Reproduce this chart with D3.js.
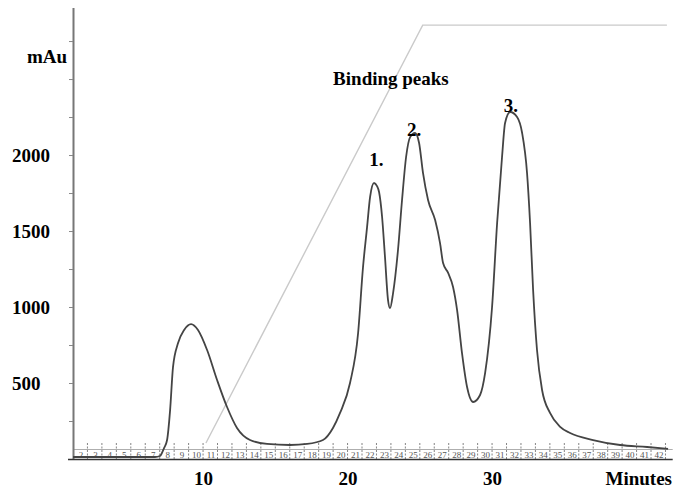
<!DOCTYPE html>
<html>
<head>
<meta charset="utf-8">
<script src="https://cdn.jsdelivr.net/npm/d3@7"></script>
<style>
    body { margin: 0; background: #fff; }
    svg text { font-family: "Liberation Serif", "DejaVu Serif", serif; }
    .lbl { font-weight: bold; font-size: 19px; fill: #000; }
    .strip text { font-size: 9px; fill: #555; }
</style>
</head>
<body>
<div id="chart"></div>
<script>
// elution profile: time (min) and absorbance (mAu)
const minutes = [1.0, 4.26, 6.68, 7.02, 7.30, 7.51, 7.72, 7.92, 8.27, 8.69, 9.17, 9.65, 10.28, 10.97,
    11.66, 12.35, 13.25, 14.43, 16.02, 17.20, 18.30, 18.99, 19.48, 20.17, 20.73, 21.07, 21.35,
    21.56, 21.83, 22.04, 22.18, 22.39, 22.59, 22.80, 22.94, 23.15, 23.49, 23.77, 24.05, 24.33,
    24.67, 24.95, 25.22, 25.57, 26.06, 26.40, 26.61, 26.96, 27.30, 27.58, 27.92, 28.27, 28.69,
    29.17, 29.52, 30.00, 30.35, 30.69, 30.90, 31.25, 31.73, 32.08, 32.42, 32.63, 32.84, 33.11,
    33.46, 34.01, 34.71, 35.40, 36.99, 38.86, 40.73, 42.18];
const absorbance = [13, 13, 13, 20, 72, 125, 322, 605, 763, 849, 888, 849, 717, 520,
    342, 204, 125, 99, 92, 99, 125, 204, 303, 500, 829, 1263, 1526,
    1724, 1816, 1796, 1757, 1592, 1329, 1046, 993, 1092, 1375, 1704, 1987, 2118,
    2145, 2079, 1882, 1704, 1572, 1421, 1289, 1224, 1132, 980, 697, 474, 375,
    421, 566, 1000, 1553, 1987, 2211, 2283, 2250, 2145, 1882, 1553, 1112, 717,
    454, 303, 211, 171, 125, 92, 79, 66];

// gradient trace
const gradMinutes = [10.2, 25.2, 42.1];
const gradLevel = [105, 2855, 2855];

// tick labels
const yTickLabels = [500, 1000, 1500, 2000];
const yMinorTicks = [250, 500, 750, 1000, 1250, 1500, 1750, 2000, 2250, 2500, 2750];
const xTickLabels = [10, 20, 30];
const stripLabels = [2, 3, 4, 5, 6, 7, 8, 9, 10, 11, 12, 13, 14, 15, 16, 17, 18, 19, 20, 21, 22,
    23, 24, 25, 26, 27, 28, 29, 30, 31, 32, 33, 34, 35, 36, 37, 38, 39, 40, 41, 42];

// peak annotations
const peakNames = ["1.", "2.", "3."];
const peakTimes = [22.0, 24.6, 31.3];
const peakLevels = [1930, 2125, 2285];

const width = 675, height = 491;

const svg = d3.select("#chart")
    .append("svg")
    .attr("width", width)
    .attr("height", height);

const x = d3.scaleLinear().domain([1, 42.5]).range([73, 672.7]);
const y = d3.scaleLinear().domain([0, 2970]).range([459, 7.6]);

// strip chart scale at the bottom
const strip = svg.append("g").attr("class", "strip");
strip.append("line")
    .attr("x1", x(1)).attr("x2", x(42.5))
    .attr("y1", 449.5).attr("y2", 449.5)
    .attr("stroke", "#999").attr("stroke-width", 0.8);
strip.selectAll(".stick")
    .data(stripLabels)
    .enter()
    .append("line")
    .attr("class", "stick")
    .attr("x1", d => x(d)).attr("x2", d => x(d))
    .attr("y1", 443).attr("y2", 459)
    .attr("stroke", "#777")
    .attr("stroke-width", 0.9)
    .attr("stroke-dasharray", "2,1.5");
strip.selectAll(".snum")
    .data(stripLabels)
    .enter()
    .append("text")
    .attr("class", "snum")
    .attr("x", d => x(d - 0.45))
    .attr("y", 458)
    .attr("text-anchor", "middle")
    .text(d => d);

// gradient
svg.append("path")
    .attr("d", d3.line().x(d => x(d[0])).y(d => y(d[1]))(gradMinutes.map((m, i) => [m, gradLevel[i]])))
    .attr("fill", "none")
    .attr("stroke", "#cacaca")
    .attr("stroke-width", 1.4);

// y axis
const yAxis = svg.append("g")
    .attr("transform", "translate(" + x(1) + ",0)")
    .call(d3.axisLeft(y).tickValues(yMinorTicks).tickSize(4).tickSizeOuter(0).tickFormat(""));
yAxis.select(".domain").attr("stroke", "#777").attr("stroke-width", 2);
yAxis.selectAll(".tick line").attr("stroke", "#888");

svg.selectAll(".ylab")
    .data(yTickLabels)
    .enter()
    .append("text")
    .attr("class", "lbl ylab")
    .attr("x", 12)
    .attr("y", d => y(d))
    .attr("dy", "0.35em")
    .text(d => d);

svg.append("text")
    .attr("class", "lbl")
    .attr("x", 67)
    .attr("y", 63)
    .attr("text-anchor", "end")
    .text("mAu");

// x axis
svg.append("line")
    .attr("x1", 68).attr("x2", x(42.5))
    .attr("y1", 459.5).attr("y2", 459.5)
    .attr("stroke", "#333")
    .attr("stroke-width", 1.5);

const xAxis = svg.append("g")
    .attr("transform", "translate(0,459)")
    .call(d3.axisBottom(x).tickValues(xTickLabels).tickSize(0).tickFormat(d3.format("d")));
xAxis.select(".domain").remove();
xAxis.attr("font-size", null).attr("font-family", null);
xAxis.selectAll("text")
    .attr("class", "lbl")
    .attr("y", 26)
    .attr("dy", 0);

svg.append("text")
    .attr("class", "lbl")
    .attr("x", 672)
    .attr("y", 485)
    .attr("text-anchor", "end")
    .text("Minutes");

// elution profile
const profile = minutes.map((m, i) => [m, absorbance[i]]);
svg.append("path")
    .datum(profile)
    .attr("d", d3.line().x(d => x(d[0])).y(d => y(d[1])).curve(d3.curveMonotoneX))
    .attr("fill", "none")
    .attr("stroke", "#444")
    .attr("stroke-width", 1.8);

// annotations
svg.append("text")
    .attr("class", "lbl")
    .attr("x", x(19.0))
    .attr("y", 85)
    .text("Binding peaks");

svg.selectAll(".peak")
    .data(peakNames)
    .enter()
    .append("text")
    .attr("class", "lbl peak")
    .attr("x", (d, i) => x(peakTimes[i]))
    .attr("y", (d, i) => y(peakLevels[i]))
    .attr("text-anchor", "middle")
    .text(d => d);
</script>
</body>
</html>
